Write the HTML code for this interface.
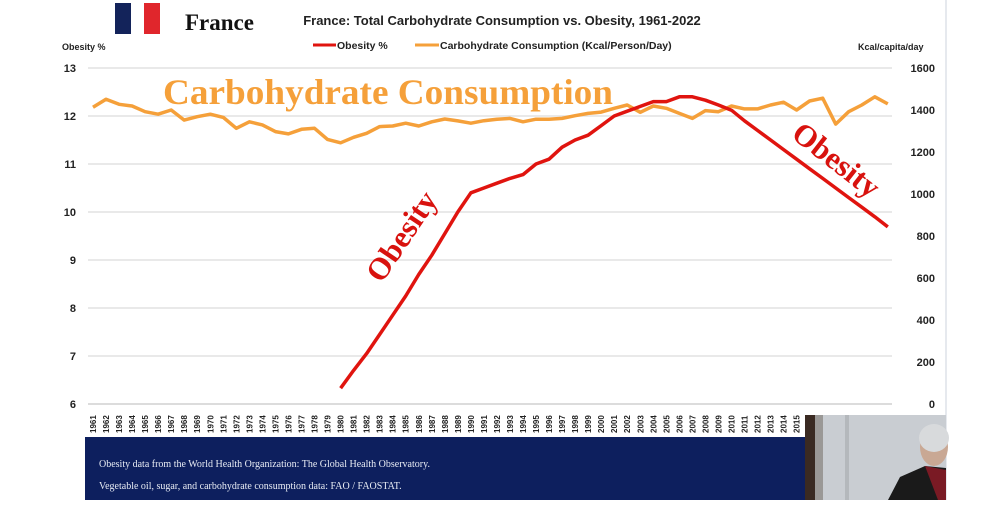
<!DOCTYPE html>
<html><head><meta charset="utf-8"><style>
body{margin:0;width:1000px;height:500px;overflow:hidden;background:#fff;font-family:"Liberation Sans",sans-serif}
</style></head><body>
<svg width="1000" height="500" viewBox="0 0 1000 500" xmlns="http://www.w3.org/2000/svg">
<line x1="946" y1="0" x2="946" y2="500" stroke="#dde2e8" stroke-width="1.5"/>
<g>
<rect x="115" y="3" width="16" height="31" fill="#13235a"/><rect x="131" y="3" width="13" height="31" fill="#fff"/><rect x="144" y="3" width="16" height="31" fill="#e0262c"/></g>
<text x="185" y="30" font-family="Liberation Serif,serif" font-size="23" font-weight="bold" fill="#111">France</text>
<text x="502" y="25" text-anchor="middle" font-size="13" font-weight="bold" fill="#222">France: Total Carbohydrate Consumption vs. Obesity, 1961-2022</text>
<g>
<g><line x1="313" y1="45" x2="336" y2="45" stroke="#e0140f" stroke-width="3"/><text x="337" y="49" font-size="10.5" font-weight="bold" fill="#222">Obesity %</text></g>
<g><line x1="415" y1="45" x2="439" y2="45" stroke="#f5a03a" stroke-width="3"/><text x="440" y="49" font-size="10.5" font-weight="bold" fill="#222">Carbohydrate Consumption (Kcal/Person/Day)</text></g>
</g>
<text x="62" y="50" font-size="9" font-weight="bold" fill="#222">Obesity %</text>
<text x="858" y="50" font-size="9" font-weight="bold" fill="#222">Kcal/capita/day</text>
<g id="grid"></g><g id="lt"></g><g id="rt"></g><g id="xt"></g>
<text x="163" y="104" textLength="450" lengthAdjust="spacingAndGlyphs" font-family="Liberation Serif,serif" font-weight="bold" font-size="36" fill="#f5a03a">Carbohydrate Consumption</text>
<path id="carbs" fill="none" stroke="#f5a03a" stroke-width="3.5" stroke-linejoin="round"/>
<path id="obes" fill="none" stroke="#e0140f" stroke-width="3.5" stroke-linejoin="round"/>
<text transform="translate(410,242) rotate(-56)" text-anchor="middle" font-family="Liberation Serif,serif" font-weight="bold" font-size="31" fill="#d8120e">Obesity</text>
<text transform="translate(830,168) rotate(38)" text-anchor="middle" font-family="Liberation Serif,serif" font-weight="bold" font-size="31" fill="#d8120e">Obesity</text>
<g>
<rect x="85" y="437" width="720" height="63" fill="#0d1f5e"/>
<text x="99" y="467" font-family="Liberation Serif,serif" font-size="10" fill="#e8ecf4">Obesity data from the World Health Organization: The Global Health Observatory.</text>
<text x="99" y="489" font-family="Liberation Serif,serif" font-size="10" fill="#e8ecf4">Vegetable oil, sugar, and carbohydrate consumption data: FAO / FAOSTAT.</text>
</g>
<g>
<rect x="805" y="415" width="141" height="85" fill="#c9cdd2"/>
<rect x="805" y="415" width="10" height="85" fill="#3a2a22"/>
<rect x="815" y="415" width="8" height="85" fill="#9a9896"/>
<rect x="845" y="415" width="4" height="85" fill="#b4b8bc"/>
<ellipse cx="934" cy="447" rx="14" ry="19" fill="#c9a894"/>
<ellipse cx="934" cy="438" rx="15" ry="14" fill="#d8dadc"/>
<path d="M888 500 L900 477 L925 466 L946 468 L946 500 Z" fill="#1a1a1a"/>
<path d="M925 466 L938 500 L946 500 L946 470 Z" fill="#7a1a24"/>
</g>
</svg>
<script>
const years=[];for(let y=1961;y<=2022;y++)years.push(y);
const leftTicks=[6,7,8,9,10,11,12,13];
const rightTicks=[0,200,400,600,800,1000,1200,1400,1600];
const obesityYears=[1980,1981,1982,1983,1984,1985,1986,1987,1988,1989,1990,1991,1992,1993,1994,1995,1996,1997,1998,1999,2000,2001,2002,2003,2004,2005,2006,2007,2008,2009,2010,2011,2012,2013,2014,2015,2016,2017,2018,2019,2020,2021,2022];
const obesity=[6.33,6.7,7.05,7.45,7.85,8.25,8.7,9.1,9.55,10.0,10.4,10.5,10.6,10.7,10.78,11.0,11.1,11.35,11.5,11.6,11.8,12.0,12.1,12.2,12.3,12.3,12.4,12.4,12.33,12.23,12.12,11.9,11.7,11.5,11.3,11.1,10.9,10.7,10.5,10.3,10.1,9.9,9.69];
const carbs=[1413,1451,1427,1419,1392,1380,1400,1352,1368,1380,1365,1313,1344,1329,1297,1286,1308,1313,1260,1244,1270,1289,1321,1324,1337,1324,1344,1357,1348,1337,1349,1356,1360,1344,1356,1356,1360,1373,1384,1390,1408,1424,1389,1419,1408,1384,1360,1397,1392,1419,1405,1405,1424,1437,1400,1443,1456,1333,1392,1424,1463,1429];
const NS="http://www.w3.org/2000/svg";
const x=yr=>93+(yr-1961)*13.03;
const yL=v=>404-(v-6)*48;
const yR=v=>404-v*0.21;
function mk(tag,a,parent,txt){const e=document.createElementNS(NS,tag);for(const k in a)e.setAttribute(k,a[k]);if(txt!==undefined)e.textContent=txt;document.getElementById(parent).appendChild(e);return e;}
leftTicks.forEach(v=>{
 const g=mk('line',{x1:88,x2:892,y1:yL(v),y2:yL(v),stroke:v===6?'#d0d0d0':'#e2e2e2','stroke-width':1.5},'grid');
 
 
 const t=mk('text',{x:76,y:yL(v)+4,'text-anchor':'end','font-size':11,'font-weight':'bold',fill:'#222'},'lt',String(v));
 
 
});
rightTicks.forEach(v=>{
 const t=mk('text',{x:935,y:yR(v)+4,'text-anchor':'end','font-size':11,'font-weight':'bold',fill:'#222'},'rt',String(v));
 
 
});
years.forEach(yr=>{
 const t=mk('text',{transform:`translate(${x(yr)+3},433) rotate(-90)`,'font-size':8,'font-weight':'bold',fill:'#222'},'xt',String(yr));
 
 
});
document.getElementById('carbs').setAttribute('d',carbs.map((v,i)=>(i?'L':'M')+x(years[i]).toFixed(1)+' '+yR(v).toFixed(1)).join(' '));
document.getElementById('obes').setAttribute('d',obesity.map((v,i)=>(i?'L':'M')+x(obesityYears[i]).toFixed(1)+' '+yL(v).toFixed(1)).join(' '));
</script>
</body></html>
